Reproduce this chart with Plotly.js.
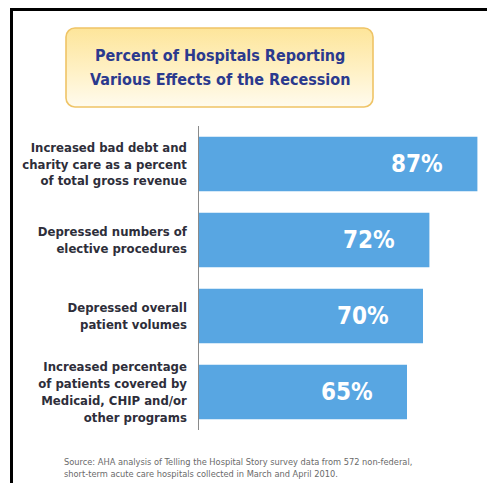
<!DOCTYPE html>
<html>
<head>
<meta charset="utf-8">
<script src="https://cdn.plot.ly/plotly-3.0.1.min.js"></script>
<style>html,body{margin:0;padding:0;background:#fff;}#chart{width:487px;height:483px;}</style>
</head>
<body>
<div id="chart"></div>
<script>
const categories = [
  "Increased bad debt and<br>charity care as a percent<br>of total gross revenue",
  "Depressed numbers of<br>elective procedures",
  "Depressed overall<br>patient volumes",
  "Increased percentage<br>of patients covered by<br>Medicaid, CHIP and/or<br>other programs"
];
const values = [87, 72, 70, 65];
const valueLabels = ["87%", "72%", "70%", "65%"];
const titleLines = ["Percent of Hospitals Reporting", "Various Effects of the Recession"];
const sourceLines = [
  "Source: AHA analysis of Telling the Hospital Story survey data from 572 non-federal,",
  "short-term acute care hospitals collected in March and April 2010."
];

const W = 487, H = 483, ML = 199, MR = 0, MT = 126, MB = 53;
const PW = W - ML - MR, PH = H - MT - MB;
const px = x => (x - ML) / PW;
const py = y => (H - MB - y) / PH;

const narrow = '"Liberation Sans Narrow", "DejaVu Sans Condensed", "Roboto Condensed", sans-serif';

const boxSvg = '<svg xmlns="http://www.w3.org/2000/svg" width="309" height="81" viewBox="0 0 309 81">' +
  '<defs><linearGradient id="g" x1="0" y1="0" x2="0" y2="1">' +
  '<stop offset="0" stop-color="#fde59a"/><stop offset="0.55" stop-color="#fff1c6"/><stop offset="1" stop-color="#fffbee"/>' +
  '</linearGradient></defs>' +
  '<rect x="1" y="1" width="307" height="79" rx="9" ry="9" fill="url(#g)" stroke="#efc466" stroke-width="1.6"/></svg>';
const boxUri = 'data:image/svg+xml;charset=utf-8,' + encodeURIComponent(boxSvg);

const trace = {
  type: 'bar',
  orientation: 'h',
  x: values,
  y: categories,
  marker: {color: '#58a6e2'},
  width: 0.72,
  hoverinfo: 'none'
};

const annotations = values.map((v, i) => ({
  x: v, y: categories[i], xref: 'x', yref: 'y',
  text: valueLabels[i], showarrow: false,
  xanchor: 'right', yanchor: 'middle', xshift: -32,
  font: {family: narrow, size: 24, color: '#ffffff', weight: 'bold'}
}));
titleLines.forEach((t, i) => annotations.push({
  xref: 'paper', yref: 'paper', x: px(220), y: py(56 + i * 23),
  xanchor: 'center', yanchor: 'middle', showarrow: false, text: t,
  font: {family: narrow, size: 16, color: '#2b3a8e', weight: 'bold'}
}));
sourceLines.forEach((t, i) => annotations.push({
  xref: 'paper', yref: 'paper', x: px(62), y: py(461 + i * 12),
  xanchor: 'left', yanchor: 'middle', showarrow: false, text: t,
  font: {family: narrow, size: 9.2, color: '#6a6a6a'}
}));

const layout = {
  width: W, height: H,
  margin: {l: ML, r: MR, t: MT, b: MB},
  paper_bgcolor: '#ffffff', plot_bgcolor: 'rgba(0,0,0,0)',
  showlegend: false,
  xaxis: {range: [0, 90], visible: false, fixedrange: true},
  yaxis: {
    autorange: 'reversed', showline: true, linecolor: '#8a8a8a', linewidth: 1.5,
    ticks: '', showgrid: false, zeroline: false, ticklabelstandoff: 8,
    tickfont: {family: narrow, size: 13, color: '#2e2e3a', weight: 'bold'}
  },
  images: [{
    source: boxUri, xref: 'paper', yref: 'paper',
    x: px(65), y: py(27), sizex: 309 / PW, sizey: 81 / PH,
    xanchor: 'left', yanchor: 'top', sizing: 'stretch', layer: 'below'
  }],
  shapes: [
    {type: 'line', xref: 'paper', yref: 'paper', x0: px(10), x1: px(487), y0: py(9.5), y1: py(9.5), line: {color: '#000', width: 3}},
    {type: 'line', xref: 'paper', yref: 'paper', x0: px(11.5), x1: px(11.5), y0: py(8), y1: py(483), line: {color: '#000', width: 3}}
  ],
  annotations: annotations
};

Plotly.newPlot('chart', [trace], layout, {displayModeBar: false, staticPlot: true});
</script>
</body>
</html>
